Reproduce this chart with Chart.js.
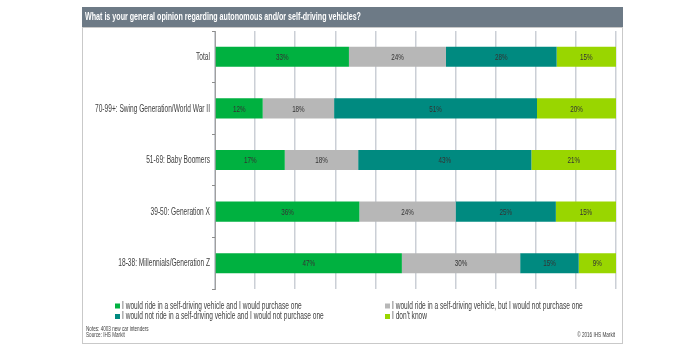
<!DOCTYPE html>
<html>
<head>
<meta charset="utf-8">
<script src="https://cdn.jsdelivr.net/npm/chart.js@4.4.1/dist/chart.umd.min.js"></script>
<style>
  html, body { margin: 0; padding: 0; background: #fff; }
  #wrap { width: 700px; height: 350px; position: relative; }
</style>
</head>
<body>
<div id="wrap"><canvas id="myChart" width="700" height="350"></canvas></div>
<script>
// data (percent)
var categorias = ['Total', '70-99+: Swing Generation/World War II', '51-69: Baby Boomers', '39-50: Generation X', '18-38: Millennials/Generation Z']
var rideBuy = [33.4, 11.9, 17.4, 36, 46.6]
var rideNoBuy = [24.2, 17.8, 18.3, 24, 29.5]
var noRide = [27.6, 50.6, 43.2, 25, 14.6]
var dontKnow = [14.8, 19.7, 21.1, 15, 9.3]
var nomesSeries = [
    'I would ride in a self-driving vehicle and I would purchase one',
    'I would ride in a self-driving vehicle, but I would not purchase one',
    'I would not ride in a self-driving vehicle and I would not purchase one',
    "I don't know"
]
var cores = ['#00b140', '#b7b7b7', '#008a80', '#99d600']

const FONTE = "'Liberation Sans', Arial, sans-serif"
const ESTREITO = 0.66 // the original text is a narrow face

function textoEstreito(ctx, txt, x, y, align) {
    ctx.save()
    ctx.translate(x, y)
    ctx.scale(ESTREITO, 1)
    ctx.textAlign = align
    ctx.textBaseline = 'middle'
    ctx.fillText(txt, 0, 0)
    ctx.restore()
}

// frame, title bar, labels, legend, notes
const decoracao = {
    id: 'decoracao',
    beforeDraw(chart) {
        const ctx = chart.ctx
        ctx.save()
        ctx.fillStyle = '#fff'
        ctx.fillRect(0, 0, chart.width, chart.height)
        ctx.strokeStyle = '#c9c9c9'
        ctx.lineWidth = 1
        ctx.strokeRect(82.5, 27.5, 540, 316)
        ctx.fillStyle = '#6d7a86'
        ctx.fillRect(82, 7, 541, 20)
        ctx.fillStyle = '#fff'
        ctx.font = 'bold 10.8px ' + FONTE
        textoEstreito(ctx, 'What is your general opinion regarding autonomous and/or self-driving vehicles?', 85, 17.5, 'left')
        ctx.restore()
    },
    afterDraw(chart) {
        const ctx = chart.ctx
        ctx.save()
        // category labels
        const eixoY = chart.scales.y
        ctx.font = '10px ' + FONTE
        ctx.fillStyle = '#404040'
        categorias.forEach((cat, i) => {
            textoEstreito(ctx, cat, eixoY.right - 5, eixoY.getPixelForValue(i) + 0.5, 'right')
        })
        // values inside the bars
        ctx.font = '9.5px ' + FONTE
        ctx.fillStyle = '#333'
        chart.data.datasets.forEach((ds, i) => {
            chart.getDatasetMeta(i).data.forEach((bar, j) => {
                const meio = (bar.x + bar.base) / 2
                textoEstreito(ctx, Math.round(ds.data[j]) + '%', meio, bar.y + 0.5, 'center')
            })
        })
        // legend in two columns
        const posLegenda = [[115, 306], [385, 306], [115, 316.5], [385, 316.5]]
        ctx.font = '10px ' + FONTE
        nomesSeries.forEach((nome, i) => {
            const p = posLegenda[i]
            ctx.fillStyle = cores[i]
            ctx.fillRect(p[0], p[1] - 2.5, 5, 5)
            ctx.fillStyle = '#404040'
            textoEstreito(ctx, nome, p[0] + 7, p[1], 'left')
        })
        // notes
        ctx.font = '7px ' + FONTE
        ctx.fillStyle = '#404040'
        textoEstreito(ctx, 'Notes: 4003 new car intenders', 86, 329, 'left')
        textoEstreito(ctx, 'Source: IHS Markit', 86, 335.5, 'left')
        textoEstreito(ctx, '\u00a9 2016 IHS Markit', 615, 335, 'right')
        ctx.restore()
    }
}

var ctx = document.getElementById('myChart').getContext('2d')
var chart = new Chart(ctx, {
    type: 'bar',
    data: {
        labels: categorias,
        datasets: [rideBuy, rideNoBuy, noRide, dontKnow].map((valores, i) => ({
            label: nomesSeries[i],
            data: valores,
            backgroundColor: cores[i],
            borderWidth: 0,
            categoryPercentage: 1,
            barPercentage: 0.39
        }))
    },
    options: {
        indexAxis: 'y',
        responsive: false,
        animation: false,
        layout: { padding: { left: 0, right: 84, top: 31, bottom: 61 } },
        plugins: {
            legend: { display: false },
            tooltip: { enabled: false }
        },
        scales: {
            x: {
                stacked: true,
                min: 0,
                max: 100,
                ticks: { display: false, stepSize: 10 },
                grid: { color: '#cbcfd6', lineWidth: 1.5, drawTicks: false },
                border: { display: false }
            },
            y: {
                stacked: true,
                afterFit: (scale) => { scale.width = 215 },
                // labels are drawn narrow by the plugin, keep only the tick marks here
                ticks: { color: 'rgba(0,0,0,0)', font: { size: 9 }, padding: 3 },
                grid: { drawOnChartArea: false, tickLength: 3, color: '#8c8c8c' },
                border: { color: '#a0a0a0', width: 1 }
            }
        }
    },
    plugins: [decoracao]
})
</script>
</body>
</html>
